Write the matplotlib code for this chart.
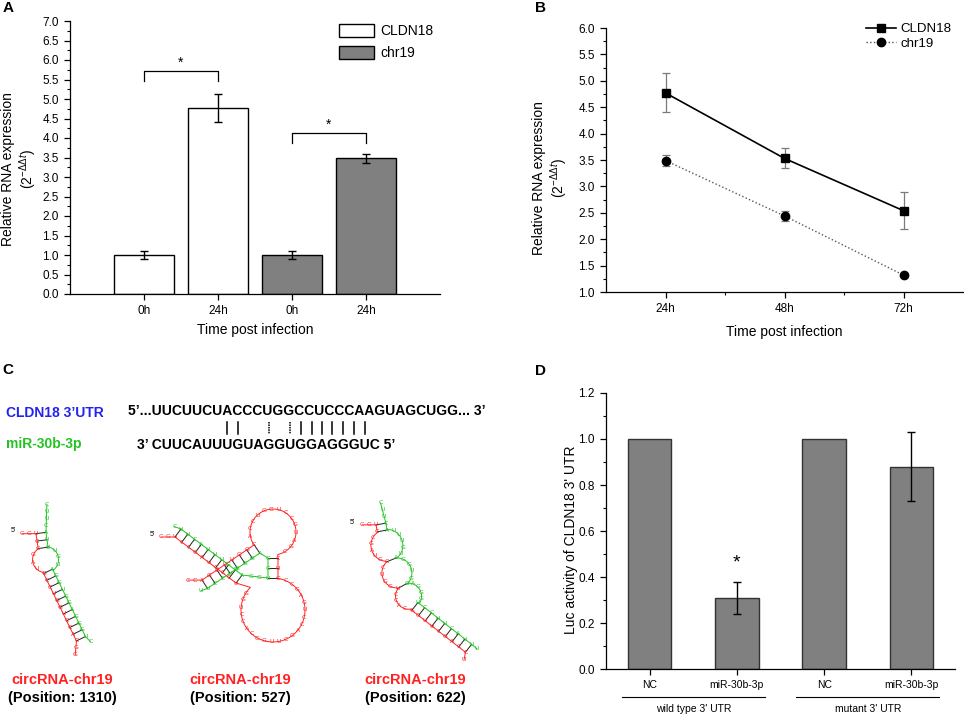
import numpy as np
import matplotlib.pyplot as plt
from matplotlib.patches import Patch
from matplotlib.ticker import MultipleLocator, FixedLocator
import matplotlib.transforms as mtransforms

plt.rcParams['font.family'] = ['Liberation Sans', 'DejaVu Sans']
plt.rcParams['mathtext.fontset'] = 'custom'
plt.rcParams['mathtext.rm'] = 'Liberation Sans'
plt.rcParams['mathtext.it'] = 'Liberation Sans:italic'
plt.rcParams['axes.linewidth'] = 0.9

# ---------------- data ----------------
# A : bars
a_labels = ['0h', '24h', '0h', '24h']
a_vals = [1.0, 4.77, 1.0, 3.48]
a_err = [0.10, 0.37, 0.10, 0.12]
a_series = ['CLDN18', 'CLDN18', 'chr19', 'chr19']
a_sig_pairs = [(0, 1), (2, 3)]
a_sig_y = [5.72, 4.13]

# B : time course
b_times = ['24h', '48h', '72h']
b_cldn = [4.77, 3.53, 2.54]
b_cldn_err = [0.37, 0.19, 0.35]
b_chr = [3.49, 2.44, 1.32]
b_chr_err = [0.11, 0.09, 0.02]

# C : sequences / duplex
utr_seq = '5’...UUCUUCUACCCUGGCCUCCCAAGUAGCUGG... 3’'
mir_seq = 'CUUCAUUUGUAGGUGGAGGGUC'
pair_marks = '       ||  : :||||||| '
positions = ['1310', '527', '622']
red_letters = 'CGUCCGAUGCCUGGUCCACGGUUCGACCUGAGC'

# D : luciferase
d_labels = ['NC', 'miR-30b-3p', 'NC', 'miR-30b-3p']
d_vals = [1.0, 0.31, 1.0, 0.88]
d_err = [0.0, 0.07, 0.0, 0.15]
d_groups = ["wild type 3' UTR", "mutant 3' UTR"]
d_star = (1, 0.46)

fig = plt.figure(figsize=(9.64, 7.16), dpi=100)
W, H = 964, 716


def box(l, t, r, b):
    return [l / W, 1 - b / H, (r - l) / W, (b - t) / H]


def style(ax):
    for s in ['top', 'right']:
        ax.spines[s].set_visible(False)
    ax.tick_params(direction='out', length=4.5, width=0.9, labelsize=8.5)
    ax.tick_params(which='minor', direction='out', length=2.5, width=0.8)


# overlay for panel C and panel letters (pixel coords)
axc = fig.add_axes([0, 0, 1, 1])
axc.set_xlim(0, W)
axc.set_ylim(H, 0)
axc.axis('off')

for lab, (x, y) in zip('ABCD', [(8, 8), (540, 8), (8, 370), (540, 371)]):
    axc.text(x, y, lab, fontsize=11, fontweight='bold', ha='center', va='center')

# ================= A =================
ax = fig.add_axes(box(70, 21, 440, 294))
style(ax)
xa = np.arange(len(a_vals))
cols = ['white' if s == 'CLDN18' else '#808080' for s in a_series]
ax.bar(xa, a_vals, width=0.8, color=cols, edgecolor='black', linewidth=1.0, zorder=2)
ax.errorbar(xa, a_vals, yerr=a_err, fmt='none', ecolor='black', elinewidth=1.0,
            capsize=3, capthick=1.0, zorder=3)
for (i, j), y in zip(a_sig_pairs, a_sig_y):
    ax.plot([i, i, j, j], [y - 0.26, y, y, y - 0.26], color='black', lw=0.9)
    ax.text((i + j) / 2, y + 0.02, '*', ha='center', va='bottom', fontsize=10)
ax.set_xlim(-1, 4)
ax.set_ylim(0, 7)
ax.set_xticks(xa)
ax.set_xticklabels(a_labels)
ax.yaxis.set_major_locator(MultipleLocator(0.5))
ax.yaxis.set_minor_locator(MultipleLocator(0.25))
ax.yaxis.set_major_formatter(plt.FormatStrFormatter('%.1f'))
ax.set_xlabel('Time post infection', fontsize=10, labelpad=4)
fig.text(20 / W, 1 - 169 / H, 'Relative RNA expression\n(2$^{-\\Delta\\Delta t}$)',
         rotation=90, ha='center', va='center', fontsize=10, multialignment='center')
hand = [Patch(facecolor='white', edgecolor='black', lw=1.0),
        Patch(facecolor='#808080', edgecolor='black', lw=1.0)]
ax.legend(hand, ['CLDN18', 'chr19'], loc='upper left', bbox_to_anchor=(339 / W, 1 - 24 / H),
          bbox_transform=fig.transFigure, frameon=False, borderpad=0, borderaxespad=0,
          handlelength=2.5, handleheight=1.1, handletextpad=0.5, labelspacing=0.55, fontsize=10)

# ================= B =================
ax = fig.add_axes(box(606, 28, 963, 292))
style(ax)
xb = np.arange(len(b_times))
ax.errorbar(xb, b_cldn, yerr=b_cldn_err, fmt='none', ecolor='#7a7a7a', elinewidth=0.9,
            capsize=3, capthick=0.9, zorder=2)
ax.errorbar(xb, b_chr, yerr=b_chr_err, fmt='none', ecolor='#7a7a7a', elinewidth=0.9,
            capsize=3, capthick=0.9, zorder=2)
ax.plot(xb, b_cldn, color='black', lw=1.2, marker='s', ms=5.5, zorder=3, label='CLDN18')
ax.plot(xb, b_chr, color='#555555', lw=1.0, ls=':', marker='o', ms=6, mfc='black',
        mec='black', zorder=3, label='chr19')
ax.set_xlim(-0.5, 2.5)
ax.set_ylim(1, 6)
ax.set_xticks(xb)
ax.set_xticklabels(b_times)
ax.xaxis.set_minor_locator(FixedLocator([0.5, 1.5]))
ax.yaxis.set_major_locator(MultipleLocator(0.5))
ax.yaxis.set_minor_locator(MultipleLocator(0.25))
ax.yaxis.set_major_formatter(plt.FormatStrFormatter('%.1f'))
ax.set_xlabel('Time post infection', fontsize=10, labelpad=7)
fig.text(551 / W, 1 - 178 / H, 'Relative RNA expression\n(2$^{-\\Delta\\Delta t}$)',
         rotation=90, ha='center', va='center', fontsize=10, multialignment='center')
ax.legend(loc='upper left', bbox_to_anchor=(866 / W, 1 - 23 / H), bbox_transform=fig.transFigure,
          frameon=False, borderpad=0, borderaxespad=0, handlelength=2.3, handletextpad=0.3,
          labelspacing=0.2, fontsize=9.5)

# ================= D =================
ax = fig.add_axes(box(606, 393, 955, 669))
style(ax)
xd = np.arange(len(d_vals))
err = np.array(d_err)
has = err > 0
ax.bar(xd, d_vals, width=0.5, color='#808080', edgecolor='#333333', linewidth=1.0, zorder=2)
ax.errorbar(xd[has], np.array(d_vals)[has], yerr=err[has], fmt='none', ecolor='black',
            elinewidth=1.0, capsize=3, capthick=1.0, zorder=3)
ax.text(d_star[0], d_star[1], '*', ha='center', va='center', fontsize=14)
ax.set_xlim(-0.5, 3.5)
ax.set_ylim(0, 1.2)
ax.set_xticks(xd)
ax.set_xticklabels(d_labels, fontsize=7.5)
ax.yaxis.set_major_locator(MultipleLocator(0.2))
ax.yaxis.set_minor_locator(MultipleLocator(0.1))
ax.yaxis.set_major_formatter(plt.FormatStrFormatter('%.1f'))
trans = mtransforms.blended_transform_factory(ax.transData, ax.transAxes)
for k, g in enumerate(d_groups):
    c = 2 * k + 0.5
    ax.plot([c - 0.82, c + 0.82], [-0.101, -0.101], color='black', lw=0.8,
            transform=trans, clip_on=False)
    ax.text(c, -0.145, g, transform=trans, ha='center', va='center', fontsize=7.5)
fig.text(571 / W, 1 - 540 / H, "Luc activity of CLDN18 3' UTR", rotation=90,
         ha='center', va='center', fontsize=10)

# ================= C =================
BLUE, GREEN, RED = '#2323f0', '#22c322', '#ff2222'
axc.text(6, 413, 'CLDN18 3’UTR', color=BLUE, fontsize=10, fontweight='bold', va='center')
axc.text(6, 444, 'miR-30b-3p', color=GREEN, fontsize=10, fontweight='bold', va='center')
axc.text(128, 411, utr_seq, fontsize=10, fontweight='bold', va='center')
mir_full = '3’ ' + mir_seq + ' 5’'
axc.text(137, 445, mir_full, fontsize=10, fontweight='bold', va='center')

rend = fig.canvas.get_renderer()
kw = dict(fontsize=10, fontweight='bold', va='center')
for i, m in enumerate(pair_marks):
    if m == ' ':
        continue
    j = i + 3
    t1 = axc.text(137, 445, mir_full[:j + 1], **kw)
    w1 = t1.get_window_extent(rend).width
    t1.remove()
    t2 = axc.text(137, 445, mir_full[j], **kw)
    w2 = t2.get_window_extent(rend).width
    t2.remove()
    xc = 137 + w1 - w2 / 2
    if m == '|':
        axc.plot([xc, xc], [422, 434], color='black', lw=1.1)
    else:
        axc.plot([xc, xc], [422, 434], color='black', lw=1.1, ls=(0, (1, 0.6)))


def unit(a):
    t = np.deg2rad(a)
    return np.array([np.cos(t), np.sin(t)])


def normal(a):
    d = unit(a)
    return np.array([-d[1], d[0]])


def tail(p, n, ang, s=7.0):
    return [np.asarray(p) + unit(ang) * s * (i + 1) for i in range(n)]


def draw_strand(path, nts, color, letters):
    path = np.array(path)
    axc.plot(path[:, 0], path[:, 1], color=color, lw=0.7, zorder=2)
    for i, (x, y) in enumerate(nts):
        axc.text(x, y, letters[i % len(letters)], color=color, fontsize=4.5,
                 ha='center', va='center', zorder=3, family='DejaVu Sans')


def draw_rungs(reds, grns):
    for r, g in zip(reds, grns):
        axc.plot([r[0], g[0]], [r[1], g[1]], color='#222222', lw=0.7, zorder=1)


def duplex(start, elems, heads, tails, w=10):
    p = np.array(start, float)
    rp, gp, rn, gn, rr, gg = [], [], [], [], [], []
    prev = None
    for el in elems:
        if el[0] == 'S':
            n, ang, s = el[1:]
            d, nv = unit(ang), normal(ang)
            for i in range(n):
                if i > 0 or prev == 'S':
                    p = p + d * s
                a, b = p + nv * w / 2, p - nv * w / 2
                rp.append(a); gp.append(b); rn.append(a); gn.append(b)
                rr.append(a); gg.append(b)
        else:
            r, kr, kg, ang = el[1:]
            d, nv = unit(ang), normal(ang)
            h = np.sqrt(max(r ** 2 - (w / 2) ** 2, 1))
            c = p + d * h
            p = p + d * 2 * h
            for path, nts, k, sg in ((rp, rn, kr, 1), (gp, gn, kg, -1)):
                v0 = path[-1] - c
                a0 = np.arctan2(v0[1], v0[0])
                v1 = p + sg * nv * w / 2 - c
                a1 = np.arctan2(v1[1], v1[0])
                am = np.arctan2(sg * nv[1], sg * nv[0])
                delta = (a1 - a0) % (2 * np.pi)
                if (am - a0) % (2 * np.pi) > delta:
                    delta -= 2 * np.pi
                ts = a0 + delta * np.linspace(0, 1, 40)
                path.extend(list(c + r * np.c_[np.cos(ts), np.sin(ts)]))
                tn = a0 + delta * np.arange(1, k + 1) / (k + 1)
                nts.extend(list(c + r * np.c_[np.cos(tn), np.sin(tn)]))
        prev = el[0]
    rh = tail(rn[0], *heads[0])
    gh = tail(gn[0], *heads[1])
    rt = tail(rn[-1], *tails[0])
    gt = tail(gn[-1], *tails[1])
    draw_rungs(rr, gg)
    draw_strand(rh[::-1] + rp + rt, rh[::-1] + rn + rt, RED, red_letters)
    draw_strand(gh[::-1] + gp + gt, gh[::-1] + gn + gt, GREEN, mir_seq)


# structure 1 (position 1310)
axc.text(13, 531, '5’', fontsize=5, ha='center', va='center')
duplex((41, 533), [('S', 3, 82, 7.5), ('L', 13, 3, 3, 78), ('S', 11, 64, 7.5)],
       heads=[(2, 180), (4, -88)], tails=[(2, 95), (1, 45)])

# structure 3 (position 622)
axc.text(352, 523, '5’', fontsize=5, ha='center', va='center')
duplex((381, 524), [('S', 2, 80, 7), ('L', 16, 5, 5, 72), ('S', 1, 68, 7), ('L', 15, 4, 4, 68),
                    ('S', 1, 62, 7), ('L', 13, 4, 4, 58), ('S', 9, 38, 8.5)],
       heads=[(2, 180), (3, -105)], tails=[(1, 100), (1, 40)])


# structure 2 (position 527)
def stem(p0, ang, n, s, w=10):
    d, nv = unit(ang), normal(ang)
    pts = [np.asarray(p0, float) + d * s * i for i in range(n)]
    return [a + nv * w / 2 for a in pts], [a - nv * w / 2 for a in pts]


def arc(c, r, a0, a1, k):
    ts = np.deg2rad(np.linspace(a0, a1, 60))
    path = list(np.asarray(c) + r * np.c_[np.cos(ts), np.sin(ts)])
    tn = np.deg2rad(a0 + (a1 - a0) * np.arange(1, k + 1) / (k + 1))
    return path, list(np.asarray(c) + r * np.c_[np.cos(tn), np.sin(tn)])


axc.text(152, 535, '5’', fontsize=5, ha='center', va='center')
redA, grnA = stem((178, 533), 37, 10, 8.5)
redB, grnB = stem((257, 549), 146, 8, 9)
redM, grnM = stem((273, 578), -90, 3, 10)
bot_path, bot_nt = arc((273, 610), 32, 225, -80, 22)
top_path, top_nt = arc((273, 532), 23, 78, -210, 14)
rh = tail(redA[0], 2, 180)[::-1]
rt = tail(redB[-1], 2, 180)
gh = tail(grnA[0], 1, 200)[::-1]
gt = tail(grnB[-1], 1, 160)
link = [grnA[-1] + (grnM[0] - grnA[-1]) * f for f in (1 / 3, 2 / 3)]
draw_rungs(redA + redB + redM, grnA + grnB + grnM)
draw_strand(rh + redA + bot_path + redM + top_path + redB + rt,
            rh + redA + bot_nt + redM + top_nt + redB + rt, RED, red_letters)
draw_strand(gh + grnA + link + grnM + grnB + gt,
            gh + grnA + link + grnM + grnB + gt, GREEN, mir_seq)

for xc, pos in zip([62, 240, 415], positions):
    axc.text(xc, 680, 'circRNA-chr19', color=RED, fontsize=10.5, fontweight='bold',
             ha='center', va='center')
    axc.text(xc, 698, '(Position: %s)' % pos, fontsize=10.5, fontweight='bold',
             ha='center', va='center')

fig.savefig('out.png', dpi=100)
